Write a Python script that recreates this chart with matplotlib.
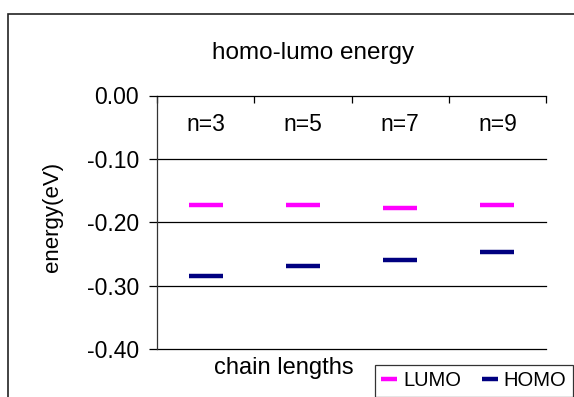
import matplotlib
matplotlib.use('Agg')
import matplotlib.pyplot as plt
import matplotlib.patches as patches

plt.rcParams['font.family'] = ['Liberation Sans', 'DejaVu Sans']

categories = ['n=3', 'n=5', 'n=7', 'n=9']
lumo = [-0.173, -0.173, -0.177, -0.173]
homo = [-0.285, -0.269, -0.260, -0.247]
yticks = [0.0, -0.1, -0.2, -0.3, -0.4]

W, H = 574, 397
fig = plt.figure(figsize=(W / 100, H / 100), dpi=100)

# outer chart border (runs off the right/bottom edge like the reference)
border = patches.Rectangle((8 / W, -0.1), 1.2, 1 - 14 / H + 0.1,
                           transform=fig.transFigure, fill=False,
                           edgecolor='#222222', lw=1.2)
fig.add_artist(border)

ax = fig.add_axes([157 / W, 48 / H, 389 / W, 253.5 / H])

xs = [i + 0.5 for i in range(len(categories))]
ax.plot(xs, lumo, linestyle='none', marker='_', ms=24, mew=3.2,
        color='#FF00FF', label='LUMO', zorder=3)
ax.plot(xs, homo, linestyle='none', marker='_', ms=24, mew=3.2,
        color='#000080', label='HOMO', zorder=3)

ax.set_xlim(0, 4)
ax.set_ylim(-0.4, 0)

for v in yticks[1:]:
    ax.axhline(v, color='black', lw=0.9, zorder=1, clip_on=False)

for s in ['right', 'bottom']:
    ax.spines[s].set_visible(False)
ax.spines['left'].set_color('#333333')
ax.spines['left'].set_linewidth(0.9)
ax.spines['top'].set_color('black')
ax.spines['top'].set_linewidth(0.9)

ax.set_yticks(yticks)
ax.set_yticklabels(['%.2f' % v for v in yticks])
ax.tick_params(axis='y', direction='out', length=6, width=0.9,
               labelsize=16.5, pad=7)

ax.xaxis.tick_top()
ax.set_xticks(range(len(categories) + 1))
ax.set_xticklabels([])
ax.tick_params(axis='x', direction='in', length=5, width=0.9)

for x, c in zip(xs, categories):
    ax.text(x, 0.885, c, transform=ax.get_xaxis_transform(),
            ha='center', va='center', fontsize=16.5)

fig.text(313 / W, 1 - 53 / H, 'homo-lumo energy', ha='center', va='center',
         fontsize=17.5)
fig.text(284 / W, 1 - 368 / H, 'chain lengths', ha='center', va='center',
         fontsize=17)
fig.text(52 / W, 1 - 217 / H, 'energy(eV)', ha='center', va='center',
         rotation=90, fontsize=16)

leg = fig.legend(loc='center', bbox_to_anchor=(474 / W, 1 - 381 / H),
                 ncol=2, fontsize=14.5, frameon=True, fancybox=False,
                 edgecolor='black', markerscale=0.5, handlelength=0.8,
                 handletextpad=0.3, columnspacing=1.0, borderpad=0.3,
                 borderaxespad=0)
leg.get_frame().set_linewidth(0.9)

fig.savefig('out.png', dpi=100)
